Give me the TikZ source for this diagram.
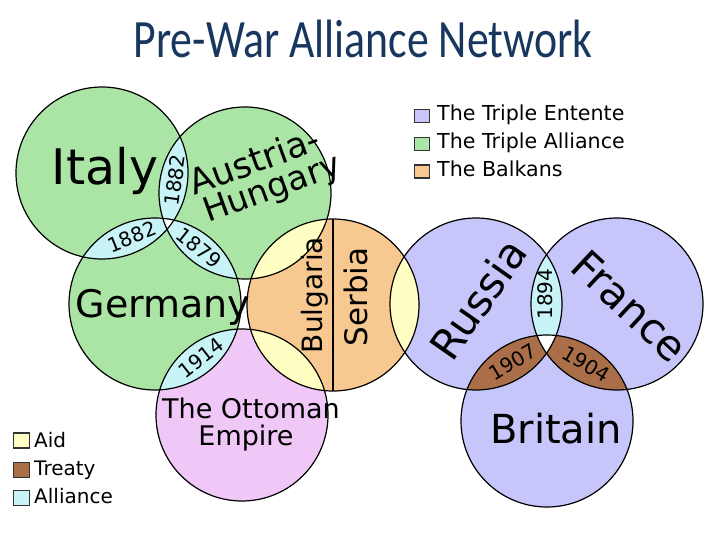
\documentclass[tikz,border=0pt]{standalone}
\usepackage{fontspec}
\setmainfont{DejaVu Sans}
\newfontfamily\titlefont{Carlito}
\definecolor{cgreen}{RGB}{170,229,166}
\definecolor{cblue}{RGB}{198,198,250}
\definecolor{corange}{RGB}{248,200,145}
\definecolor{cpink}{RGB}{240,200,248}
\definecolor{cyellow}{RGB}{255,255,196}
\definecolor{ccyan}{RGB}{200,244,248}
\definecolor{cbrown}{RGB}{170,110,72}
\definecolor{ctitle}{RGB}{23,55,94}
\newcommand\fsz[1]{\fontsize{#1}{#1}\selectfont}
\def\cR{86pt}
\newcommand\lensfill[3]{\begin{scope}\clip (#1) circle[radius=\cR];\fill[#3] (#2) circle[radius=\cR];\end{scope}}
\newcommand\triplefill[4]{\begin{scope}\clip (#1) circle[radius=\cR];\clip (#2) circle[radius=\cR];\fill[#4] (#3) circle[radius=\cR];\end{scope}}
\begin{document}
\begin{tikzpicture}[x=1pt,y=-1pt,
  lbl/.style={inner sep=0pt,text=black},
  yr/.style={lbl,font=\fsz{20}},
  keybox/.style={draw=black!80,line width=1.3pt,minimum width=15pt,minimum height=13pt,inner sep=0pt},
  keytext/.style={inner sep=0pt,anchor=base west},
  ring/.style={draw=black,line width=1.2pt}]
\useasboundingbox (0,0) rectangle (720,540);
\fill[white] (0,0) rectangle (720,540);
% circle centres
\coordinate (it) at (102,173);
\coordinate (ah) at (245,193);
\coordinate (ge) at (155,304);
\coordinate (ot) at (242,415);
\coordinate (ba) at (333,305);
\coordinate (ru) at (476,304);
\coordinate (fr) at (617,304);
\coordinate (br) at (547,421);
% base fills
\foreach \c/\col in {it/cgreen,ah/cgreen,ge/cgreen,ot/cpink,ba/corange,ru/cblue,fr/cblue,br/cblue}
  \fill[\col] (\c) circle[radius=\cR];
% alliances
\lensfill{it}{ah}{ccyan}
\lensfill{it}{ge}{ccyan}
\lensfill{ah}{ge}{ccyan}
\lensfill{ge}{ot}{ccyan}
\lensfill{ru}{fr}{ccyan}
% treaties
\lensfill{ru}{br}{cbrown}
\lensfill{fr}{br}{cbrown}
% aid
\lensfill{ba}{ah}{cyellow}
\lensfill{ba}{ot}{cyellow}
\lensfill{ba}{ru}{cyellow}
% triple overlaps
\triplefill{it}{ah}{ge}{white}
\triplefill{ru}{fr}{br}{white}
% outlines
\foreach \c in {it,ah,ge,ot,ba,ru,fr,br}
  \draw[ring] (\c) circle[radius=\cR];
\coordinate (batop) at (333,219);
\coordinate (babot) at (333,391);
\draw[ring] (batop) -- (babot);
% title
\node[inner sep=0pt,anchor=base,text=ctitle] (title) at (363,58) {\scalebox{0.81}[1]{\titlefont\fsz{54}Pre-War Alliance Network}};
% country labels
\node[lbl,anchor=base,font=\fsz{49}] (italy) at (105,185) {Italy};
\node[lbl,anchor=base west,rotate=20,font=\fsz{35}] (austria) at (194,196) {Austria-};
\node[lbl,anchor=base west,rotate=20,font=\fsz{33.5}] (hungary) at (208,223) {Hungary};
\node[lbl,anchor=base,font=\fsz{38}] (germany) at (163,317) {Germany};
\node[lbl,rotate=90,font=\fsz{28}] (bulgaria) at (315,295) {Bulgaria};
\node[lbl,rotate=90,font=\fsz{31}] (serbia) at (356,297) {Serbia};
\node[lbl,rotate=55,font=\fsz{42}] (russia) at (478,299) {Russia};
\node[lbl,rotate=-43,font=\fsz{42}] (france) at (630,306) {France};
\node[lbl,anchor=base,font=\fsz{27}] (ottoman) at (251,418) {The Ottoman};
\node[lbl,anchor=base,font=\fsz{27}] (empire) at (246,445) {Empire};
\node[lbl,anchor=base,font=\fsz{40}] (britain) at (556,443) {Britain};
% year labels
\node[yr,rotate=82] (y1) at (175,180) {1882};
\node[yr,rotate=22] (y2) at (132,237) {1882};
\node[yr,rotate=-39] (y3) at (199,248) {1879};
\node[yr,rotate=38] (y4) at (201,358) {1914};
\node[yr,rotate=90] (y5) at (545,294) {1894};
\node[yr,rotate=31] (y6) at (513,362) {1907};
\node[yr,rotate=-31] (y7) at (586,364) {1904};
% legend top right
\node[keybox,fill=cblue] (k1) at (422,116) {};
\node[keybox,fill=cgreen] (k2) at (422,144) {};
\node[keybox,fill=corange] (k3) at (422,171.5) {};
\node[keytext,font=\fsz{20.6}] (t1) at (437,121) {The Triple Entente};
\node[keytext,font=\fsz{20.6}] (t2) at (437,148.75) {The Triple Alliance};
\node[keytext,font=\fsz{20.6}] (t3) at (437,176.5) {The Balkans};
% legend bottom left
\node[keybox,fill=cyellow,minimum width=16pt,minimum height=15pt] (k4) at (21.5,440.5) {};
\node[keybox,fill=cbrown,minimum width=16pt,minimum height=15pt] (k5) at (21.5,470) {};
\node[keybox,fill=ccyan,minimum width=16pt,minimum height=15pt] (k6) at (21.5,498) {};
\node[keytext,font=\fsz{20}] (t4) at (34,447) {Aid};
\node[keytext,font=\fsz{20}] (t5) at (34,475) {Treaty};
\node[keytext,font=\fsz{20}] (t6) at (34,503) {Alliance};
\end{tikzpicture}
\end{document}
